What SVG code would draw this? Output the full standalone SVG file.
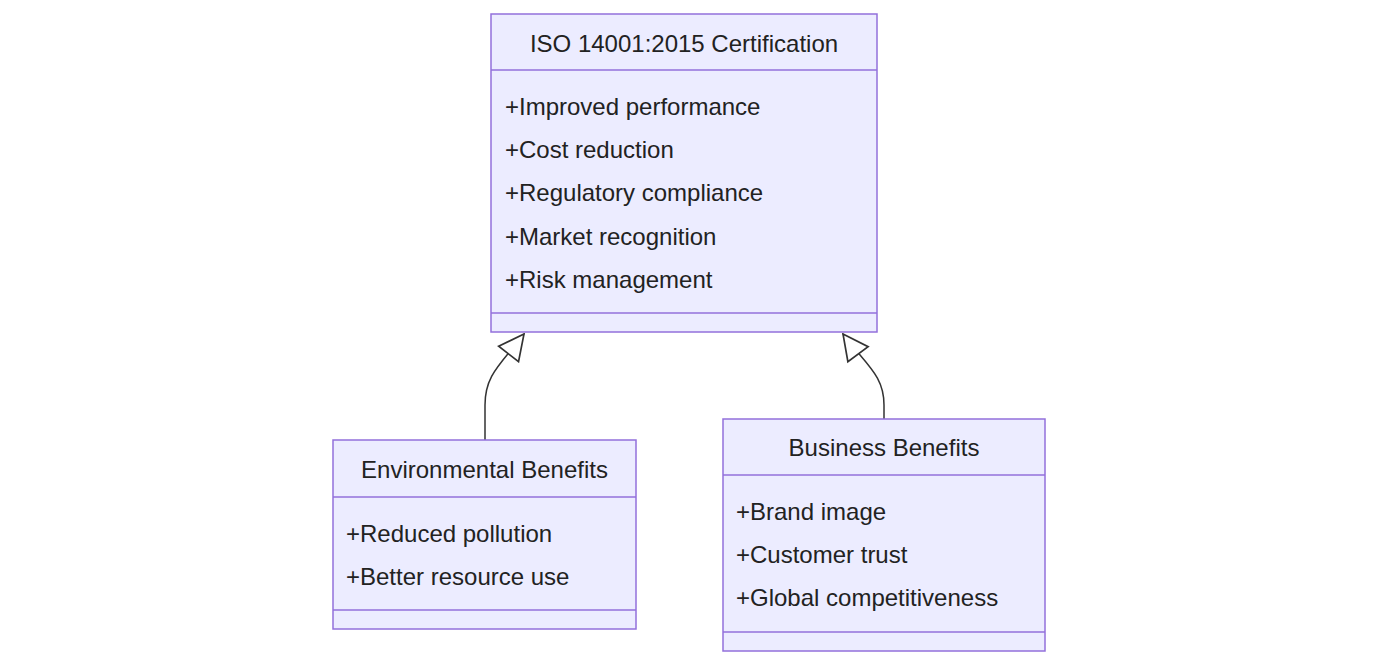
<svg xmlns="http://www.w3.org/2000/svg" width="1379" height="665" viewBox="0 0 1379 665">
<style>
.box{fill:#ECECFF;stroke:#9370DB;stroke-width:1.5}
.ln{stroke:#9370DB;stroke-width:1.5}
text{font-family:"Liberation Sans",Arial,sans-serif;font-size:24px;fill:#222}
.e{fill:none;stroke:#333;stroke-width:1.5}
</style>
<defs>
<marker id="tri" viewBox="0 0 20 20" refX="19" refY="10" markerWidth="28" markerHeight="28" markerUnits="userSpaceOnUse" orient="auto">
<path d="M1,1 L19,10 L1,19 Z" fill="#fff" stroke="#333" stroke-width="1.2"/>
</marker>
</defs>
<rect width="1379" height="665" fill="#fff"/>
<g id="edges">
<path class="e" d="M485,440 L485,405 C485,375 500,365 524,334" marker-end="url(#tri)"/>
<path class="e" d="M884,419 L884,405 C884,375 866,365 843,334" marker-end="url(#tri)"/>
</g>
<g id="iso">
<rect class="box" x="491" y="14" width="386" height="318"/>
<line class="ln" x1="491" y1="70" x2="877" y2="70"/>
<line class="ln" x1="491" y1="313" x2="877" y2="313"/>
<text x="684" y="52" text-anchor="middle">ISO 14001:2015 Certification</text>
<text x="505" y="115">+Improved performance</text>
<text x="505" y="158">+Cost reduction</text>
<text x="505" y="201">+Regulatory compliance</text>
<text x="505" y="245">+Market recognition</text>
<text x="505" y="288">+Risk management</text>
</g>
<g id="env">
<rect class="box" x="333" y="440" width="303" height="189"/>
<line class="ln" x1="333" y1="497" x2="636" y2="497"/>
<line class="ln" x1="333" y1="610" x2="636" y2="610"/>
<text x="484.5" y="478" text-anchor="middle">Environmental Benefits</text>
<text x="346" y="542">+Reduced pollution</text>
<text x="346" y="585">+Better resource use</text>
</g>
<g id="biz">
<rect class="box" x="723" y="419" width="322" height="232"/>
<line class="ln" x1="723" y1="475" x2="1045" y2="475"/>
<line class="ln" x1="723" y1="632" x2="1045" y2="632"/>
<text x="884" y="456" text-anchor="middle">Business Benefits</text>
<text x="736" y="520">+Brand image</text>
<text x="736" y="563">+Customer trust</text>
<text x="736" y="606">+Global competitiveness</text>
</g>
</svg>
